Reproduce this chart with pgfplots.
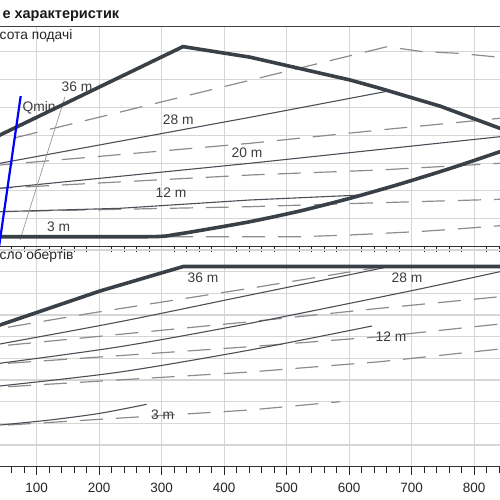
\documentclass[border=0pt]{standalone}
\usepackage{fontspec}
\setmainfont{Liberation Sans}
\usepackage{pgfplots}
\pgfplotsset{compat=1.18}
\definecolor{thickc}{HTML}{3A4048}
\definecolor{thinc}{HTML}{4A5058}
\definecolor{dashc}{HTML}{8C8C8C}
\definecolor{gridc}{HTML}{D6D6D6}
\definecolor{lblc}{HTML}{3C3C3C}
\tikzset{
  thk/.style={thickc, line width=3.6pt, line join=miter},
  thn/.style={thinc, line width=1.1pt},
  dsh/.style={dashc, line width=1.2pt, dash pattern=on 23pt off 13pt},
  lbl/.style={font=\fontsize{13.8}{15}\selectfont, text=lblc},
}
\pgfplotsset{
  panel/.style={
    scale only axis, x=0.625pt,
    xmin=0, xmax=900, ymin=0,
    separate axis lines,
    y axis line style={draw=none},
    xtick={100,200,...,800},
    minor xtick={20,40,60,80,120,140,160,180,220,240,260,280,320,340,360,380,420,440,460,480,520,540,560,580,620,640,660,680,720,740,760,780,820,840,860,880},
    ytick={1,...,10}, yticklabels={},
    ymajorgrids, xmajorgrids,
    major grid style={gridc, line width=1.1pt},
    tick align=outside, xtick pos=left,
    y tick style={draw=none},
    x tick style={black!85, line width=0.9pt},
    major tick length=8pt, minor tick length=6pt,
    /pgf/number format/assume math mode=true,
    xticklabel style={font=\fontsize{13.5}{15}\selectfont, text=black!85, yshift=-5pt},
  },
}
\begin{document}
\begin{tikzpicture}[x=1pt,y=1pt]
\useasboundingbox (0,0) rectangle (500,500);
\clip (0,0) rectangle (500,500);
\begin{axis}[panel, anchor=south west, at={(-25.8pt,253.5pt)},
  y=27.8pt, ymax=7.9, xticklabels={},
  x axis line style={black!75, line width=1.2pt}]
% dashed curves
\addplot[dsh] coordinates {(65.3,3.91) (660.5,7.187) (718.1,7.007) (774.1,6.95) (841.3,6.806) (873.3,6.727)};
\addplot[dsh] coordinates {(25.3,2.899) (41.3,2.932) (441.3,3.712) (649.3,4.191) (841.3,4.612) (873.3,4.683)};
\addplot[dsh] coordinates {(25.3,2.076) (41.3,2.094) (441.3,2.572) (649.3,2.752) (841.3,2.993) (873.3,3.04)};
\addplot[dsh] coordinates {(25.3,1.245) (41.3,1.252) (441.3,1.432) (649.3,1.576) (841.3,1.698) (873.3,1.723)};
\addplot[dsh] coordinates {(25.3,0.353) (521.3,0.353) (601.3,0.414) (649.3,0.468) (713.3,0.540) (761.3,0.612) (841.3,0.748) (873.3,0.799)};
% thin solid
\addplot[thn] coordinates {(25.3,2.928) (441.3,4.647) (658.9,5.576)};
\addplot[thn] coordinates {(25.3,2.058) (41.3,2.094) (441.3,2.993) (841.3,3.950) (873.3,4.029)};
\addplot[thn] coordinates {(25.3,1.241) (41.3,1.252) (233.3,1.374) (441.3,1.673) (620.5,1.853)};
% leader line
\addplot[black!40, line width=0.7pt] coordinates {(73.3,0.234) (145.3,5.388)};
% envelope
\addplot[thk] coordinates {(25.3,3.84) (41.3,4.01) (334.1,7.19) (441.3,6.81) (601.3,5.99) (649.3,5.69) (745.3,5.05) (841.3,4.25) (873.3,3.97)};
\addplot[thk, smooth, tension=0.4] coordinates {(25.3,0.353) (281.3,0.353) (321.3,0.432) (361.3,0.576) (441.3,0.892) (521.3,1.277) (601.3,1.734) (681.3,2.248) (761.3,2.806) (841.3,3.410) (873.3,3.651)};
% Qmin
\addplot[blue, line width=2.2pt] coordinates {(39.8,0) (74.4,5.41)};
\node[lbl] at (axis cs:164.5,5.74) {36 m};
\node[lbl] at (axis cs:326.4,4.55) {28 m};
\node[lbl] at (axis cs:436.5,3.36) {20 m};
\node[lbl] at (axis cs:314.9,1.92) {12 m};
\node[lbl] at (axis cs:134.9,0.70) {3 m};
\node[lbl] at (axis cs:103.7,4.98) {Qmin};
\end{axis}
\begin{axis}[panel, anchor=south west, at={(-25.8pt,33.3pt)},
  y=21.67pt, ymax=10.16,
  x axis line style={black!80, line width=1.1pt}]
% dashed
\addplot[dsh] coordinates {(54.1,6.437) (188.5,7.093) (441.3,8.233) (649.3,9.216)};
\addplot[dsh] coordinates {(54.1,5.607) (441.3,6.691) (649.3,7.310) (841.3,7.845) (873.3,7.933)};
\addplot[dsh] coordinates {(54.1,4.772) (441.3,5.538) (649.3,5.999) (841.3,6.585) (873.3,6.678)};
\addplot[dsh] coordinates {(54.1,3.692) (441.3,4.370) (649.3,4.845) (841.3,5.431) (873.3,5.524)};
\addplot[dsh] coordinates {(54.1,1.924) (441.3,2.617) (585.3,2.999)};
% thin solid
\addplot[thn, smooth] coordinates {(25.3,5.570) (41.3,5.662) (233.3,6.691) (441.3,7.923) (657.3,9.192)};
\addplot[thn, smooth] coordinates {(25.3,4.716) (41.3,4.772) (233.3,5.538) (441.3,6.618) (697.3,8.108) (841.3,8.999) (873.3,9.192)};
\addplot[thn, smooth] coordinates {(25.3,3.678) (41.3,3.724) (233.3,4.370) (441.3,5.385) (636.5,6.493)};
\addplot[thn, smooth] coordinates {(25.3,1.878) (41.3,1.924) (121.3,2.155) (201.3,2.464) (276.0,2.880)};
% envelope
\addplot[thk] coordinates {(25.3,6.378) (41.3,6.539) (201.3,8.108) (334.6,9.239) (900,9.239)};
\node[lbl] at (axis cs:366,8.71) {36 m};
\node[lbl] at (axis cs:692.5,8.71) {28 m};
\node[lbl] at (axis cs:666.9,5.99) {12 m};
\node[lbl] at (axis cs:301.3,2.39) {3 m};
\end{axis}
\node[anchor=base west, font=\bfseries\fontsize{14.5}{16}\selectfont, text=black!90] at (-1,481) {е характеристик};
\node[anchor=base west, inner sep=0pt, font=\fontsize{13.8}{15}\selectfont, text=black!85] at (-0.5,460) {сота подачі};
\node[anchor=base west, inner sep=0pt, font=\fontsize{13.8}{15}\selectfont, text=black!85] at (-0.5,240) {сло обертів};
\end{tikzpicture}
\end{document}
